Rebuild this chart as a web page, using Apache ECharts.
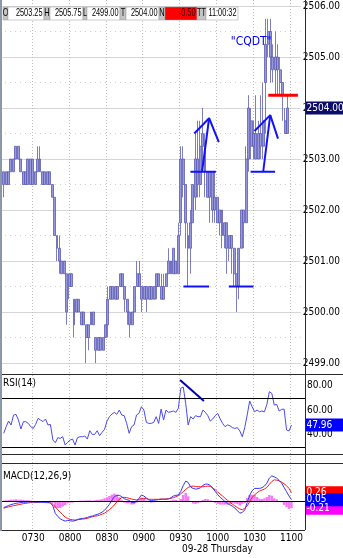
<!DOCTYPE html>
<html><head><meta charset="utf-8">
<script src="https://cdn.jsdelivr.net/npm/echarts@6/dist/echarts.min.js"></script>
<style>html,body{margin:0;padding:0;background:#fff}#c{width:343px;height:558px}</style>
</head><body><div id="c"></div>
<script>
const FONT = '"DejaVu Sans Condensed","DejaVu Sans",sans-serif';
const NARROW = '"Liberation Sans",Arial,sans-serif';

// ---------- axis structure ----------
const startMinute = 424;   // 07:04, each category is a 2-minute bar
const barMinutes = 2;
const nCats = 124;
const categories = [];
for (let i = 0; i < nCats; i++) {
  const m = startMinute + i * barMinutes;
  categories.push(String(Math.floor(m / 60)).padStart(2, '0') + String(m % 60).padStart(2, '0'));
}
const timeLabels = ['0730','0800','0830','0900','0930','1000','1030','1100'];
const dateLabel = '09-28 Thursday';
const rsiTicks = [40, 60, 80];
const rsiLevels = [70, 30];

// ---------- price bars [open, close, low, high] ----------
const bars = [
[2502.75,2502.5,2502.25,2502.75],[2502.5,2502.75,2502.5,2502.75],[2502.5,2502.75,2502.5,2502.75],[2502.75,2503,2502.75,2503],
[2503,2502.75,2502.75,2503],[2503,2503.25,2503,2503.25],[2503.25,2503,2503,2503.25],[2503,2502.75,2502.75,2503],
[2502.75,2502.5,2502.5,2502.75],[2502.5,2502.75,2502.5,2502.75],[2502.5,2503,2502.5,2503],[2503,2502.5,2502.5,2503],
[2502.5,2503,2502.5,2503],[2502.75,2502.5,2502.5,2502.75],[2502.75,2503,2502.75,2503.25],[2503,2502.75,2502.75,2503.25],
[2502.75,2502.5,2502.5,2502.75],[2502.5,2502.75,2502.5,2502.75],[2502.75,2502.5,2502.5,2502.75],[2502.75,2502.5,2502.5,2502.75],
[2502.5,2502.25,2502.25,2502.5],[2502.25,2501.5,2501.5,2502.25],[2501.5,2501.25,2501,2501.5],[2501.25,2501,2500.75,2501.5],
[2501,2500.75,2500.75,2501],[2500.75,2501,2500.75,2501],[2500.75,2500,2499.75,2500.75],[2500.5,2500.75,2500.25,2500.75],
[2500.75,2500.5,2500.5,2500.75],[2500.25,2499.75,2499.5,2500.25],[2500,2500.25,2500,2500.25],[2500.25,2500,2500,2500.25],
[2500,2499.75,2499.75,2500],[2499.75,2500,2499.75,2500],[2499.75,2499.5,2499,2499.75],[2499.5,2499.75,2499.25,2499.75],
[2499.75,2500,2499.75,2500],[2500,2499.75,2499.75,2500],[2499.5,2499.25,2499,2499.5],[2499.25,2499.5,2499.25,2499.5],
[2499.5,2499.25,2499.25,2499.5],[2499.25,2499.5,2499.25,2499.5],[2499.5,2499.75,2499.5,2499.75],[2499.75,2500.25,2499.5,2500.5],
[2500.25,2500.5,2500.25,2500.5],[2500.5,2500.25,2500.25,2500.5],[2500.25,2500.5,2500.25,2500.5],[2500.5,2500.25,2500.25,2500.5],
[2500.5,2500.75,2500.5,2500.75],[2500.75,2500.5,2500.5,2500.75],[2500.5,2500.25,2500,2500.5],[2500.25,2500,2499.75,2500.25],
[2500,2499.75,2499.5,2500],[2499.75,2500,2499.75,2500],[2500,2500.5,2500,2500.5],[2500.5,2500.75,2500.5,2501],
[2500.75,2500.5,2500.5,2501],[2500.5,2500.25,2500,2500.5],[2500.25,2500.5,2500.25,2500.5],[2500.5,2500.25,2500,2500.5],
[2500.25,2500.5,2500.25,2500.5],[2500.5,2500.25,2500.25,2500.5],[2500.25,2500.5,2500.25,2500.5],[2500.5,2500.75,2500.25,2500.75],
[2500.75,2500.5,2500.5,2500.75],[2500.5,2500.25,2500.25,2500.75],[2500.25,2500.5,2500.25,2500.75],[2500.5,2500.75,2500.5,2500.75],
[2500.75,2501,2500.75,2501.25],[2501,2500.75,2500.75,2501],[2500.75,2501.25,2500.75,2501.25],[2501,2500.75,2500.75,2501],
[2500.75,2501.5,2500.75,2501.75],[2501.75,2503,2501.5,2503.25],[2503,2502.5,2502.25,2503.25],[2502.5,2501.75,2501.25,2502.5],
[2501.5,2501.25,2500.5,2501.75],[2501.25,2501.75,2500.75,2502],[2501.75,2502.5,2501.75,2502.5],[2502.25,2503,2502,2503.5],
[2503,2502.5,2502.25,2503.75],[2502.5,2503.25,2502.25,2503.75],[2503.25,2503.5,2502.75,2504],[2503.25,2502.75,2502.25,2503.5],
[2502.75,2502.25,2502.25,2502.75],[2502.25,2502.75,2501.75,2502.75],[2502.75,2502,2501.75,2502.75],[2502,2502.25,2501.75,2502.75],
[2502.25,2501.75,2501.75,2502.25],[2501.75,2502,2501.5,2502],[2502,2501.5,2501.25,2502],[2501.5,2501.75,2501.25,2501.75],
[2501.75,2501.25,2500.75,2501.75],[2501.25,2501.5,2501,2501.5],[2501.5,2501.25,2500.75,2501.5],[2501.25,2500.75,2500.5,2501.25],
[2500.75,2500.5,2500,2500.75],[2500.5,2501.25,2500.25,2501.25],[2501.25,2502,2501.25,2502],[2502,2501.75,2501.25,2502],
[2501.75,2503,2501.75,2503.25],[2503,2504,2502.75,2504.25],[2503.75,2503.25,2503,2504],[2503.25,2503.5,2503,2503.75],
[2503.5,2503,2503,2504.25],[2503,2503.5,2503,2503.75],[2503.5,2503.25,2503,2504.25],[2503.25,2503.75,2503,2504.5],
[2504.5,2505.25,2503.5,2505.75],[2505.25,2505.5,2505,2505.75],[2505.5,2505,2504.5,2505.75],[2505,2504.75,2504.5,2505.25],
[2504.75,2505,2504.25,2505.5],[2505,2504.75,2504.25,2505.25],[2504.75,2504.5,2504.25,2505],[2504.5,2504.25,2503.75,2504.5],
[2503.75,2503.5,2503.5,2504],[2503.5,2504,2503.5,2504.25]
];
const firstBarIndex = 1;

// ---------- indicators (one value per bar) ----------
const rsi = [
41.2,46.6,51.2,48,56,56.7,52,44.7,50.7,50.7,
49.3,46.6,45.2,48.5,53.4,52,50.7,52.9,48,48.5,
35.7,33.5,37.6,37.1,38.4,31.6,33.8,35.7,36.5,31.6,
37.6,38.4,38.4,39,36.5,43.3,40.3,40.3,43.3,39.3,
42,44.4,51.2,54.8,56.9,58.3,56.7,60.2,56.1,55.6,
49.3,41.2,46.6,48,56.1,57.5,62.9,60.2,50.1,49.3,
49.3,50.1,54.8,49.3,61,52,60.2,58.3,58.8,59.4,
58.3,61.6,78,79,65.6,48,54.8,52.9,55.6,54.8,
54.8,60.2,58.3,55.6,51.2,52.9,55.6,57.5,52.9,49.3,
46.6,48,47.4,45.8,45.2,45.8,43.1,38.4,45.8,56.1,
67.6,62.9,58.8,60.2,58.8,59.4,58.8,64.8,75.2,73.8,
64.3,64.8,59.4,60.7,61,43.9,43.1,47.96];
const macd = [
-0.19,-0.16,-0.13,-0.10,-0.08,-0.06,-0.05,-0.04,-0.03,-0.03,
-0.02,-0.02,-0.02,-0.03,-0.03,-0.03,-0.03,-0.04,-0.04,-0.05,
-0.14,-0.37,-0.46,-0.53,-0.57,-0.60,-0.58,-0.59,-0.60,-0.59,
-0.55,-0.53,-0.52,-0.51,-0.49,-0.46,-0.45,-0.42,-0.40,-0.37,
-0.33,-0.27,-0.19,-0.09,0.03,0.14,0.18,0.18,0.14,0.08,
0.05,0.03,-0.04,-0.04,0,0.09,0.19,0.16,0.10,0.04,
0.02,0.03,0.04,0.05,0.06,0.06,0.06,0.07,0.11,0.16,
0.18,0.19,0.30,0.48,0.61,0.57,0.43,0.39,0.37,0.38,
0.41,0.48,0.52,0.52,0.48,0.40,0.30,0.20,0.12,0.06,
-0.01,-0.07,-0.11,-0.15,-0.21,-0.28,-0.36,-0.34,-0.26,-0.04,
0.18,0.32,0.39,0.39,0.39,0.41,0.46,0.55,0.70,0.77,
0.74,0.70,0.63,0.55,0.42,0.29,0.16,0.05];
const signal = [
-0.21,-0.19,-0.17,-0.15,-0.13,-0.12,-0.10,-0.09,-0.07,-0.06,
-0.05,-0.04,-0.03,-0.03,-0.02,-0.02,-0.02,-0.02,-0.02,-0.03,
-0.09,-0.17,-0.26,-0.33,-0.41,-0.48,-0.52,-0.55,-0.56,-0.57,
-0.56,-0.55,-0.54,-0.53,-0.52,-0.49,-0.47,-0.45,-0.44,-0.42,
-0.39,-0.36,-0.31,-0.25,-0.19,-0.11,-0.02,0.06,0.11,0.12,
0.11,0.09,0.07,0.05,0.04,0.06,0.08,0.09,0.08,0.06,
0.06,0.06,0.06,0.06,0.07,0.07,0.07,0.08,0.09,0.11,
0.14,0.17,0.23,0.29,0.36,0.42,0.45,0.46,0.45,0.44,
0.44,0.44,0.45,0.46,0.45,0.40,0.35,0.28,0.22,0.16,
0.09,0.03,-0.03,-0.09,-0.14,-0.19,-0.23,-0.26,-0.21,-0.14,
-0.01,0.12,0.19,0.26,0.31,0.34,0.37,0.42,0.51,0.60,
0.65,0.64,0.62,0.58,0.53,0.47,0.39,0.26];
const hist = [
0.02,0.03,0.04,0.05,0.05,0.06,0.05,0.05,0.04,0.03,
0.03,0.02,0.01,0,-0.01,-0.01,-0.01,-0.02,-0.02,-0.02,
-0.05,-0.2,-0.2,-0.2,-0.16,-0.12,-0.06,-0.04,-0.04,-0.02,
0.01,0.02,0.02,0.02,0.03,0.03,0.02,0.03,0.04,0.05,
0.06,0.09,0.12,0.16,0.2,0.23,0.2,0.12,0.03,-0.04,
-0.06,-0.06,-0.1,-0.09,-0.04,0.03,0.11,0.07,0.02,-0.02,
-0.04,-0.03,-0.02,-0.01,-0.01,-0.01,-0.01,-0.01,0.02,0.05,
0.04,0.02,0.07,0.19,0.25,0.15,-0.02,-0.07,-0.08,-0.06,
-0.03,0.04,0.07,0.06,0.03,0,-0.05,-0.08,-0.1,-0.1,
-0.1,-0.1,-0.08,-0.06,-0.07,-0.09,-0.13,-0.08,-0.05,0.1,
0.19,0.2,0.2,0.13,0.08,0.07,0.09,0.13,0.19,0.17,
0.09,0.06,0.01,-0.03,-0.11,-0.18,-0.23,-0.21];

// ---------- drawn annotations (x = bar index, y = price / RSI) ----------
const tentA = [[79.6,2503.5],[85.7,2503.8],[89.7,2503.33]];
const tentALeg = [[85.7,2503.8],[82.8,2502.75]];
const tentB = [[104.4,2503.55],[110.9,2503.86],[114.1,2503.4]];
const tentBLeg = [[110.9,2503.86],[108,2502.75]];
const supportLines = [[78,88.5,2502.75],[102.8,112.9,2502.75],[75.1,85.7,2500.5],[93.8,104,2500.5]];
const resistanceLine = [110.1,122.3,2504.25];
const rsiTrend = [[72.7,84.7],[82.4,67.6]];
const noteText = '"CQDT"';
const notePos = [94.6, 2505.3];

// ---------- header ----------
const headerLabels = ['O','H','L','T','N','TT'];
const headerValues = ['2503.25','2505.75','2499.00','2504.00','-0.50','11:00:32'];

// ---------- build ----------
function pad(arr) {
  const out = [];
  for (let i = 0; i < nCats; i++) {
    const k = i - firstBarIndex;
    out.push(k >= 0 && k < arr.length ? arr[k] : '-');
  }
  return out;
}
function segs(list) {
  const out = [];
  list.forEach(s => { out.push([s[0], s[2]], [s[1], s[2]], '-'); });
  return out;
}
const W = 305;
const isLabelCat = (idx, val) => timeLabels.indexOf(val !== undefined ? val : categories[idx]) >= 0;

const hiddenCat = g => ({type:'category', gridIndex:g, data:categories, boundaryGap:true, show:false});
const hiddenVal = g => ({type:'value', gridIndex:g, min:-0.5, max:nCats-0.5, show:false});

const chart = echarts.init(document.getElementById('c'), null, {renderer:'canvas'});
const annoLine = (data, color, width, xi) => ({
  type:'line', xAxisIndex:xi, yAxisIndex: xi === 4 ? 0 : 1, data, symbol:'none', silent:true,
  connectNulls:false, lineStyle:{color, width}, z:6, animation:false
});

chart.setOption({
  animation:false,
  backgroundColor:'#ffffff',
  grid:[
    {left:0, top:6, width:W, height:357},
    {left:0, top:375, width:W, height:79},
    {left:0, top:463, width:W, height:67},
    {left:0, top:0, width:W, height:530}
  ],
  xAxis:[
    hiddenCat(0), hiddenCat(1),
    {type:'category', gridIndex:2, data:categories, boundaryGap:true,
     axisLine:{show:false}, axisTick:{show:false}, splitLine:{show:false},
     axisLabel:{interval:isLabelCat, margin:3, fontSize:10, color:'#000', fontFamily:FONT}},
    {type:'category', gridIndex:3, data:categories, boundaryGap:true,
     axisLine:{show:false}, axisTick:{show:false}, axisLabel:{show:false},
     splitLine:{show:true, interval:isLabelCat, lineStyle:{color:'#bdbdbd', width:1, type:[1,2]}}},
    hiddenVal(0), hiddenVal(1)
  ],
  yAxis:[
    {type:'value', gridIndex:0, position:'right', min:2499, max:2506, interval:1,
     axisLine:{show:false}, axisTick:{show:false},
     axisLabel:{margin:2, fontSize:10, color:'#000', fontFamily:FONT, formatter:v => v.toFixed(2)},
     splitLine:{show:true, lineStyle:{color:'#d6d6d6', width:1}},
     minorTick:{show:false, splitNumber:2},
     minorSplitLine:{show:true, lineStyle:{color:'#cfcfcf', width:1, type:[1,4]}}},
    {type:'value', gridIndex:1, position:'right', min:24.3, max:88.8,
     axisLine:{show:false}, axisTick:{show:false}, splitLine:{show:false},
     axisLabel:{customValues:rsiTicks, margin:2, fontSize:10, color:'#000', fontFamily:FONT, formatter:v => v.toFixed(2)}},
    {type:'value', gridIndex:2, position:'right', min:-0.87, max:1.16,
     axisLine:{show:false}, axisTick:{show:false}, splitLine:{show:false}, axisLabel:{show:false}},
    {type:'value', gridIndex:3, show:false}
  ],
  series:[
    {type:'candlestick', xAxisIndex:0, yAxisIndex:0, data:pad(bars), barWidth:'100%',
     itemStyle:{color:'rgba(140,140,215,0.9)', color0:'rgba(140,140,215,0.9)',
                borderColor:'#5c5cb2', borderColor0:'#5c5cb2', borderWidth:0.8}},
    annoLine(tentA, '#1212ff', 2, 4),
    annoLine(tentALeg, '#1212ff', 2, 4),
    annoLine(tentB, '#1212ff', 2, 4),
    annoLine(tentBLeg, '#1212ff', 2, 4),
    annoLine(segs(supportLines), '#1212ff', 2, 4),
    annoLine(segs([resistanceLine]), '#ff0000', 3, 4),
    {type:'line', xAxisIndex:1, yAxisIndex:1, data:pad(rsi), symbol:'none', silent:true,
     lineStyle:{color:'#4b4bf2', width:1},
     markLine:{symbol:'none', silent:true, label:{show:false}, animation:false,
       lineStyle:{color:'#000', width:1, type:'solid'}, data:rsiLevels.map(v => ({yAxis:v}))}},
    annoLine(rsiTrend, '#0000b8', 2, 5),
    {type:'bar', xAxisIndex:2, yAxisIndex:2, data:pad(hist), barWidth:'100%', silent:true,
     itemStyle:{color:'#f47af4'}},
    {type:'line', xAxisIndex:2, yAxisIndex:2, data:pad(macd), symbol:'none', silent:true,
     lineStyle:{color:'#3535ff', width:1}, z:4,
     markLine:{symbol:'none', silent:true, label:{show:false}, animation:false,
       lineStyle:{color:'#000', width:1, type:'solid'}, data:[{yAxis:0}]}},
    {type:'line', xAxisIndex:2, yAxisIndex:2, data:pad(signal), symbol:'none', silent:true,
     lineStyle:{color:'#ff1a1a', width:1}, z:3}
  ]
});

// ---------- overlay text / frames ----------
const g = [];
const hline = (y, x1, x2, c) => g.push({type:'line', shape:{x1, y1:y, x2, y2:y}, style:{stroke:c, lineWidth:1}, z:50, silent:true});
hline(374.5, 0, 343, '#2a2a2a');
hline(454.5, 0, 343, '#2a2a2a');
hline(463.5, 0, 343, '#2a2a2a');
hline(530.5, 0, W, '#2a2a2a');
g.push({type:'line', shape:{x1:W+0.5, y1:0, x2:W+0.5, y2:530}, style:{stroke:'#2a2a2a', lineWidth:1}, z:50});
g.push({type:'line', shape:{x1:1, y1:0, x2:1, y2:531}, style:{stroke:'#8a98a8', lineWidth:2}, z:50});

const txt = (text, x, y, opts, extra) => g.push(Object.assign({type:'text', x, y, z:60, silent:true,
  style:Object.assign({text, fill:'#000', font:'10px ' + FONT, align:'left', textAlign:'left',
    verticalAlign:'middle', textVerticalAlign:'middle'}, opts || {})}, extra || {}));
txt('RSI(14)', 3, 383);
txt('MACD(12,26,9)', 3, 476);
txt(dateLabel, 182, 549);

// header boxes
const labW = [5,6,4,6,6,9], valW = [36,33,33,33,32,32];
let hx = 3;
headerLabels.forEach((lab, k) => {
  g.push({type:'rect', shape:{x:hx, y:7, width:labW[k], height:13}, style:{fill:'#c4c4c4', stroke:'#9a9a9a', lineWidth:0.5}, z:60});
  txt(lab, hx + labW[k] / 2, 13.5, {align:'center', textAlign:'center', font:'10.5px ' + NARROW}, {scaleX:0.7});
  hx += labW[k];
  const red = headerValues[k].charAt(0) === '-';
  g.push({type:'rect', shape:{x:hx, y:7, width:valW[k], height:13}, style:{fill: red ? '#ff0000' : '#ffffff', stroke:'#9a9a9a', lineWidth:0.5}, z:60});
  txt(headerValues[k], hx + valW[k] - 1.5, 13.5, {align:'right', textAlign:'right', font:'10.5px ' + NARROW, fill: red ? '#3a0000' : '#000'}, {scaleX:0.7});
  hx += valW[k];
});

// value boxes on the right axis, positioned from the data
const lastClose = bars[bars.length - 1][1];
const boxes = [
  [0, lastClose, lastClose.toFixed(2), '#0c0c6a'],
  [1, rsi[rsi.length - 1], rsi[rsi.length - 1].toFixed(2), '#0000ff'],
  [2, signal[signal.length - 1], signal[signal.length - 1].toFixed(2), '#ff0000'],
  [2, hist[hist.length - 1], hist[hist.length - 1].toFixed(2), '#ff00ff'],
  [2, macd[macd.length - 1], macd[macd.length - 1].toFixed(2), '#0000ff']
];
boxes.forEach(b => {
  const y = chart.convertToPixel({yAxisIndex:b[0]}, b[1]);
  g.push({type:'rect', shape:{x:W + 1, y:y - 6.5, width:343 - W - 1, height:13}, style:{fill:b[3]}, z:70});
  g.push({type:'text', x:W + 1.5, y, z:71, silent:true, style:{text:b[2], fill:'#fff', font:'10px ' + FONT,
    align:'left', textAlign:'left', verticalAlign:'middle', textVerticalAlign:'middle'}});
});
const np = chart.convertToPixel({xAxisIndex:4, yAxisIndex:0}, notePos);
txt(noteText, np[0], np[1], {fill:'#0000ff', font:'12px ' + FONT});

chart.setOption({graphic:g});
</script></body></html>
